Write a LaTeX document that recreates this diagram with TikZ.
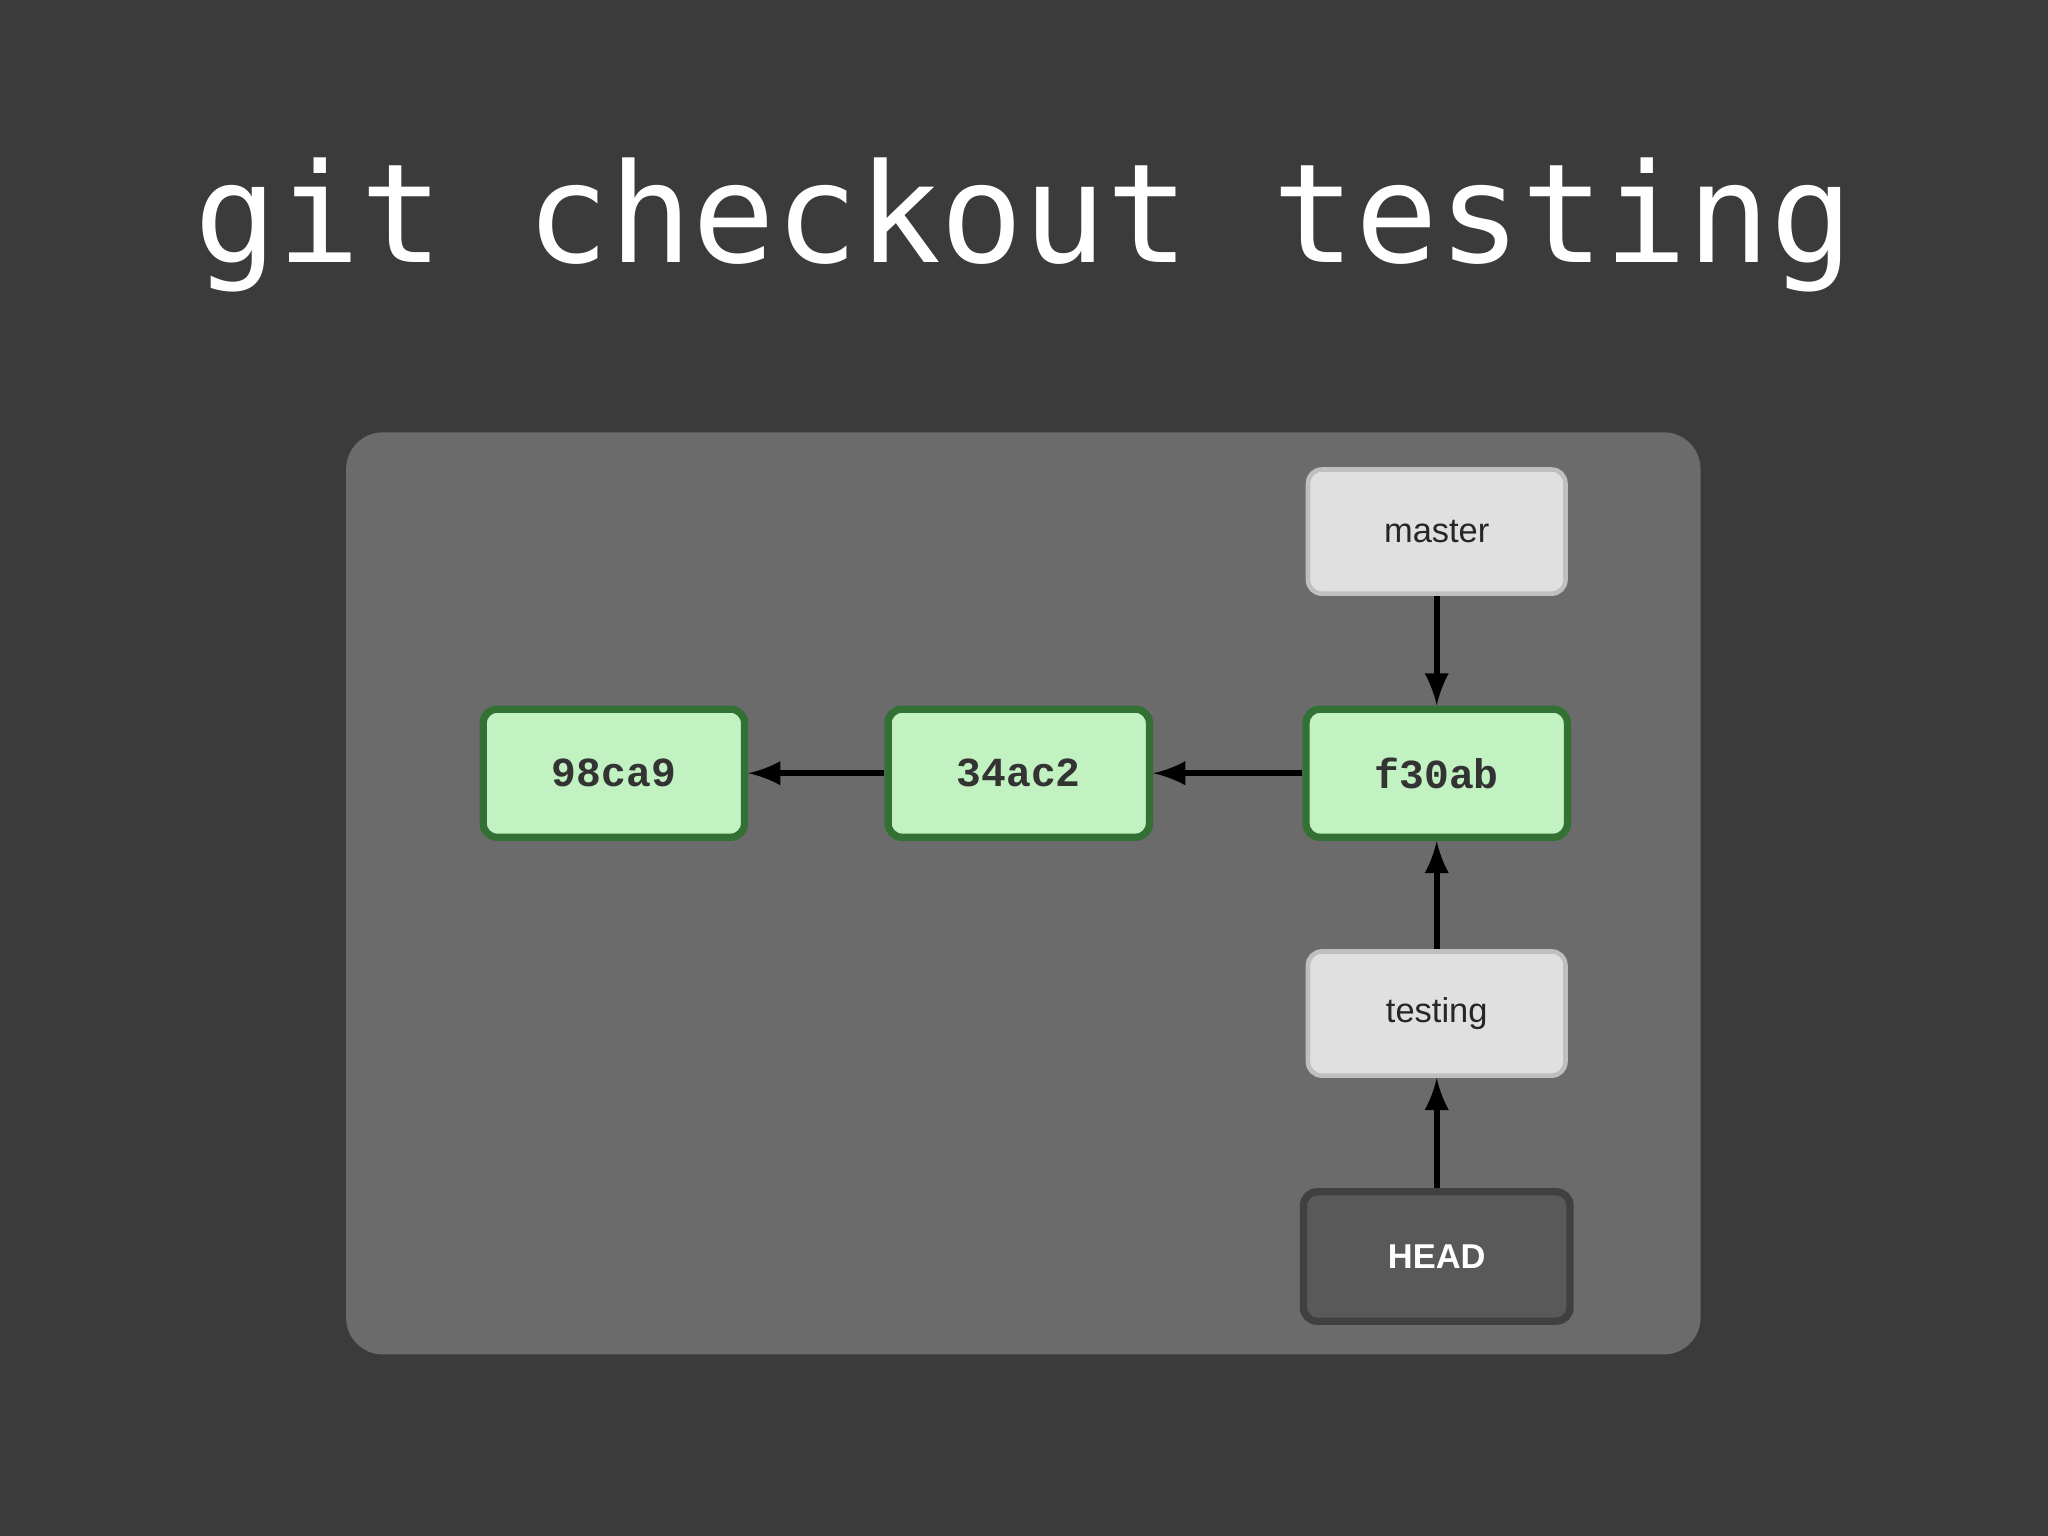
\documentclass[tikz,border=0pt]{standalone}
\usepackage{fontspec}
\setmainfont{Liberation Sans}
\newfontfamily\titlefont{DejaVu Sans Mono}
\newfontfamily\commitfont{Liberation Mono}
\begin{document}
\begin{tikzpicture}[x=0.01cm,y=-0.01cm,
  commit/.style={draw=green!30!black!80, line width=1.6pt, fill=green!20!white!95!black, rounded corners=3pt, minimum width=2cm, minimum height=0.98cm, font=\commitfont\bfseries\fontsize{9pt}{11pt}\selectfont, text=black!80},
  ref/.style={draw=black!25, line width=1pt, fill=black!12, rounded corners=3pt, minimum width=1.97cm, minimum height=0.95cm, font=\fontsize{7.5pt}{9pt}\selectfont, text=black!85},
  headbox/.style={draw=black!75, line width=1.6pt, fill=black!65, rounded corners=3pt, minimum width=2.04cm, minimum height=0.99cm, font=\bfseries\fontsize{7.5pt}{9pt}\selectfont, text=white},
  arr/.style={-latex, line width=1.4pt, black}]
\fill[black!77] (0,0) rectangle (1568,1176);
\fill[black!58, rounded corners=8pt] (265,331) rectangle (1302,1037);
\node[text=white, font=\titlefont\fontsize{30pt}{33pt}\selectfont] (title) at (784,172) {git checkout testing};
\node[commit] (a) at (470,592) {98ca9};
\node[commit] (b) at (780,592) {34ac2};
\node[commit] (c) at (1100,592) {f30ab};
\node[ref] (m) at (1100,407) {master};
\node[ref] (t) at (1100,776) {testing};
\node[headbox] (h) at (1100,962) {HEAD};
\draw[arr] (b) -- (a);
\draw[arr] (c) -- (b);
\draw[arr] (m) -- (c);
\draw[arr] (t) -- (c);
\draw[arr] (h) -- (t);
\end{tikzpicture}
\end{document}
